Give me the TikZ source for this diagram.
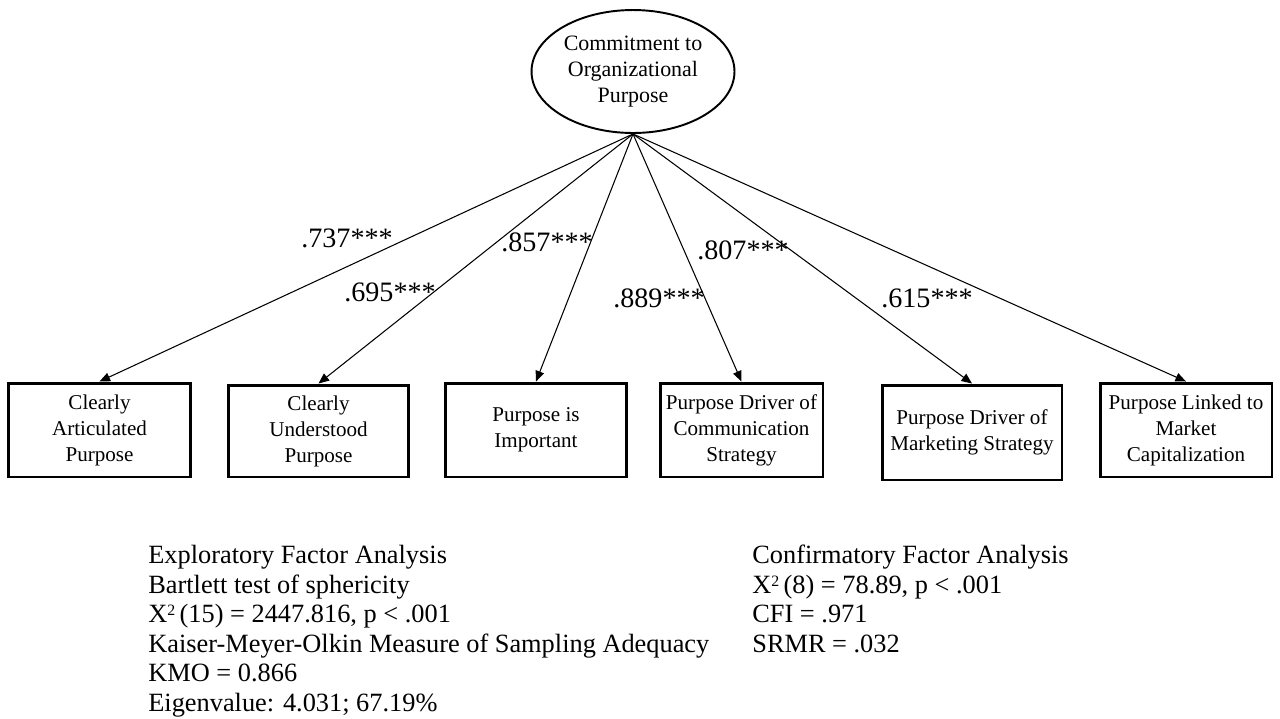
\documentclass[tikz,border=0pt]{standalone}
\usepackage{fontspec}
\setmainfont{Liberation Serif}
\usetikzlibrary{shapes.geometric,arrows.meta}

\newcommand{\chisq}{X{\fontsize{9}{9}\selectfont\raisebox{4pt}{2}}}

\begin{document}
\begin{tikzpicture}[x=0.02cm, y=-0.02cm,
    factor/.style={ellipse, draw, line width=1.1pt, inner sep=0pt,
        minimum width=4.06cm, minimum height=2.46cm, align=center,
        font=\fontsize{12.5}{14.6}\selectfont},
    item/.style={rectangle, draw, line width=1.7pt, inner sep=0pt,
        minimum height=1.88cm, align=center,
        font=\fontsize{12}{14.8}\selectfont},
    load/.style={line width=0.6pt, -{Triangle[length=6pt,width=5pt]}},
    coef/.style={inner sep=0pt, font=\fontsize{16}{19}\selectfont},
    stats/.style={inner sep=0pt, anchor=north west, align=left,
        font=\fontsize{15}{16.8}\selectfont}]
    \useasboundingbox (0,0) rectangle (1280,718);

    % Latent factor
    \node[factor] (commitment) at (633,71.5) {Commitment to\\Organizational\\Purpose};

    % Indicators
    \node[item, minimum width=3.66cm] (articulated) at (99.5,430) {Clearly\\Articulated\\Purpose};
    \node[item, minimum width=3.62cm, minimum height=1.84cm] (understood) at (318.5,431) {Clearly\\Understood\\Purpose};
    \node[item, minimum width=3.64cm] (important) at (536,430) {Purpose is\\Important};
    \node[item, minimum width=3.26cm] (communication) at (741.5,430) {Purpose Driver of\\Communication\\Strategy};
    \node[item, minimum width=3.6cm, minimum height=1.9cm] (marketing) at (972,432.5) {Purpose Driver of\\Marketing Strategy};
    \node[item, minimum width=3.44cm] (capitalization) at (1186,430) {Purpose Linked to\\Market\\Capitalization};

    % Loadings
    \draw[load] (commitment.south) -- (articulated.north);
    \draw[load] (commitment.south) -- (understood.north);
    \draw[load] (commitment.south) -- (important.north);
    \draw[load] (commitment.south) -- (communication.north);
    \draw[load] (commitment.south) -- (marketing.north);
    \draw[load] (commitment.south) -- (capitalization.north);

    \node[coef] (l-articulated) at (347,238) {.737***};
    \node[coef] (l-understood) at (390,292) {.695***};
    \node[coef] (l-important) at (547,242) {.857***};
    \node[coef] (l-communication) at (659,298) {.889***};
    \node[coef] (l-marketing) at (743,250) {.807***};
    \node[coef] (l-capitalization) at (927,298) {.615***};

    % Fit statistics
    \node[stats] (efa) at (148,545) {Exploratory Factor Analysis\\
        Bartlett test of sphericity\\
        \chisq\,(15) = 2447.816, p < .001\\
        Kaiser-Meyer-Olkin Measure of Sampling Adequacy\\
        KMO = 0.866\\
        Eigenvalue: 4.031; 67.19\%};
    \node[stats] (cfa) at (752,545) {Confirmatory Factor Analysis\\
        \chisq\,(8) = 78.89, p < .001\\
        CFI = .971\\
        SRMR = .032};
\end{tikzpicture}
\end{document}
